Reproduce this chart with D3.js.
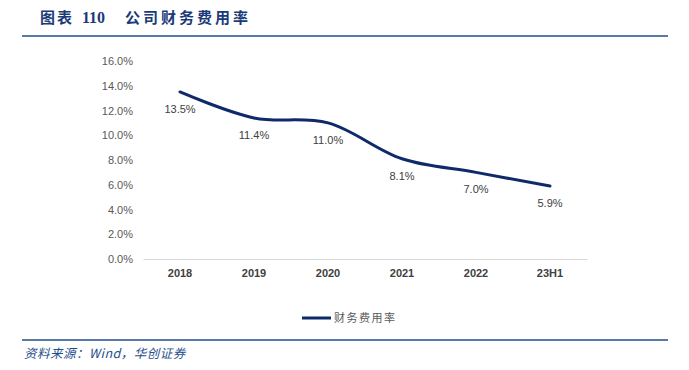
<!DOCTYPE html>
<html><head><meta charset="utf-8">
<script src="https://cdn.jsdelivr.net/npm/d3@7"></script>
<style>body{margin:0;background:#fff;}svg{display:block;}</style>
</head><body>
<svg id="c" width="689" height="370"></svg>
<script>
const categories = ["2018","2019","2020","2021","2022","23H1"];
const values = [13.5, 11.4, 11.0, 8.1, 7.0, 5.9];
const yTicks = [0,2,4,6,8,10,12,14,16];
const seriesName = "财务费用率";

const svg = d3.select("#c");
const navy = "#0E2A6B";
// title
const t = svg.append("text").attr("y",23).attr("font-weight","bold").attr("font-size",15).attr("fill","#1B3A78");
t.append("tspan").attr("x",40).attr("font-family","Noto Sans CJK SC").attr("letter-spacing",2).text("图表");
t.append("tspan").attr("x",82).attr("font-family","Liberation Serif").attr("font-size",16).text("110");
t.append("tspan").attr("x",125).attr("font-family","Noto Sans CJK SC").attr("letter-spacing",3).text("公司财务费用率");
svg.append("line").attr("x1",22).attr("x2",668).attr("y1",36).attr("y2",36).attr("stroke","#1F4E8C").attr("stroke-width",1.5);
svg.append("line").attr("x1",22).attr("x2",668).attr("y1",340).attr("y2",340).attr("stroke","#1F4E8C").attr("stroke-width",1.5);
svg.append("text").attr("x",24).attr("y",358).attr("font-family","Noto Sans CJK SC")
  .attr("font-style","italic").attr("font-size",12.5).attr("letter-spacing",0.5).attr("fill","#1F4E8C")
  .text("资料来源：Wind，华创证券");

const x = d3.scaleBand().domain(categories).range([143,587]);
const y = d3.scaleLinear().domain([0,16]).range([259,61]);

// y axis labels
const ya = svg.append("g").attr("transform","translate(133,0)")
  .call(d3.axisLeft(y).tickValues(yTicks).tickSize(0).tickPadding(0).tickFormat(d=>d.toFixed(1)+"%"));
ya.select(".domain").remove();
ya.selectAll("text").attr("font-family","Liberation Sans, Arial").attr("font-size",11).attr("fill","#595959");

// x axis
const xa = svg.append("g").attr("transform","translate(0,259)")
  .call(d3.axisBottom(x).tickSize(0).tickPadding(10));
xa.select(".domain").attr("stroke","#D9D9D9").attr("stroke-width",1);
xa.selectAll("text").attr("font-family","Liberation Sans, Arial").attr("font-size",11).attr("font-weight","bold").attr("fill","#404040");

const data = categories.map((c,i)=>({c,v:values[i]}));
const line = d3.line().x(d=>x(d.c)+x.bandwidth()/2).y(d=>y(d.v)).curve(d3.curveCatmullRom.alpha(0.5));
svg.append("path").datum(data).attr("d",line).attr("fill","none").attr("stroke",navy).attr("stroke-width",3).attr("stroke-linecap","round");

svg.selectAll(".lbl").data(data).enter().append("text")
  .attr("x",d=>x(d.c)+x.bandwidth()/2).attr("y",d=>y(d.v)+21)
  .attr("text-anchor","middle").attr("font-family","Liberation Sans, Arial").attr("font-size",11).attr("fill","#404040")
  .text(d=>d.v.toFixed(1)+"%");

// legend
svg.append("line").attr("x1",302).attr("x2",331).attr("y1",318).attr("y2",318).attr("stroke",navy).attr("stroke-width",3);
svg.append("text").attr("x",334).attr("y",322).attr("font-family","Noto Sans CJK SC").attr("font-size",11).attr("letter-spacing",1.5).attr("fill","#595959").text(seriesName);
</script>
</body></html>
